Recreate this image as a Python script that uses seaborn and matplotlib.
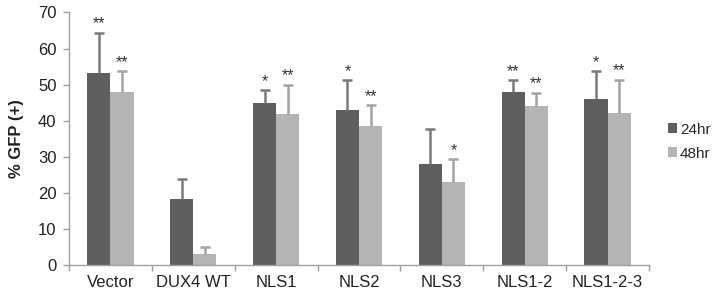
import pandas as pd
import seaborn as sns
import matplotlib.pyplot as plt

constructs = ['Vector', 'DUX4 WT', 'NLS1', 'NLS2', 'NLS3', 'NLS1-2', 'NLS1-2-3']
gfp_24 = [53.2, 18.3, 44.8, 43.0, 28.1, 48.0, 46.0]
gfp_48 = [48.0, 3.2, 41.8, 38.5, 23.0, 44.1, 42.2]
err_24 = [11.2, 5.6, 3.6, 8.2, 9.7, 3.2, 7.7]
err_48 = [5.7, 1.9, 8.2, 5.8, 6.4, 3.7, 9.2]
sig_24 = ['**', '', '*', '*', '', '**', '*']
sig_48 = ['**', '', '**', '**', '*', '**', '**']
times = ['24hr', '48hr']

df = pd.DataFrame({
    'construct': constructs * 2,
    'time': ['24hr'] * len(constructs) + ['48hr'] * len(constructs),
    'gfp': gfp_24 + gfp_48,
})

sns.set_style('white')
plt.rcParams['font.family'] = ['Liberation Sans', 'DejaVu Sans']

fig = plt.figure(figsize=(7.26, 2.95), dpi=100)
ax = fig.add_axes([0.095, 0.1007, 0.799, 0.857])

colors = {'24hr': '#5f5f5f', '48hr': '#b4b4b4'}
err_colors = ['#7a7a7a', '#a4a4a4']
sns.barplot(data=df, x='construct', y='gfp', hue='time', order=constructs,
            hue_order=times, palette=colors, errorbar=None, width=0.56,
            saturation=1, linewidth=0, ax=ax)

errs = [err_24, err_48]
sigs = [sig_24, sig_48]
bar_containers = list(ax.containers)
for i, cont in enumerate(bar_containers):
    xs = [p.get_x() + p.get_width() / 2 for p in cont.patches]
    hs = [p.get_height() for p in cont.patches]
    eb = ax.errorbar(xs, hs, yerr=[[0] * len(hs), errs[i]], fmt='none',
                     ecolor=err_colors[i], elinewidth=1.8, capsize=3.5, capthick=1.8)
    # only keep the upper cap, like the original
    eb[1][0].set_visible(False)
    for x, h, e, s in zip(xs, hs, errs[i], sigs[i]):
        if s:
            ax.annotate(s, (x, h + e), xytext=(0, 1), textcoords='offset points',
                        ha='center', va='bottom', fontsize=11.5, color='#333333')

ax.set_ylim(0, 70)
ax.set_yticks(range(0, 71, 10))
ax.set_xlim(-0.5, len(constructs) - 0.5)
ax.set_xticks(range(len(constructs)))
ax.set_xticklabels(constructs)
ax.set_xticks([i - 0.5 for i in range(len(constructs) + 1)], minor=True)
ax.tick_params(axis='x', which='major', length=0, labelsize=12, pad=7, colors='#222222')
ax.tick_params(axis='x', which='minor', length=4, width=1, color='#a0a0a0', direction='out', bottom=True)
ax.tick_params(axis='y', length=4, width=1, labelsize=12,
               pad=5, colors='#222222', direction='out', left=True)
ax.tick_params(axis='y', color='#a0a0a0')
ax.set_xlabel('')
ax.set_ylabel('% GFP (+)', fontsize=12, fontweight='bold', labelpad=10, color='#222222')

for side in ['top', 'right']:
    ax.spines[side].set_visible(False)
for side in ['left', 'bottom']:
    ax.spines[side].set_color('#a0a0a0')
    ax.spines[side].set_linewidth(1)

handles, labels = ax.get_legend_handles_labels()
ax.legend(handles, labels, loc='center left', bbox_to_anchor=(0.905, 0.52),
          bbox_transform=fig.transFigure, frameon=False, fontsize=11,
          handlelength=0.6, handleheight=0.6, handletextpad=0.2, labelspacing=0.65,
          borderpad=0.2)

fig.savefig('out.png', dpi=100)
